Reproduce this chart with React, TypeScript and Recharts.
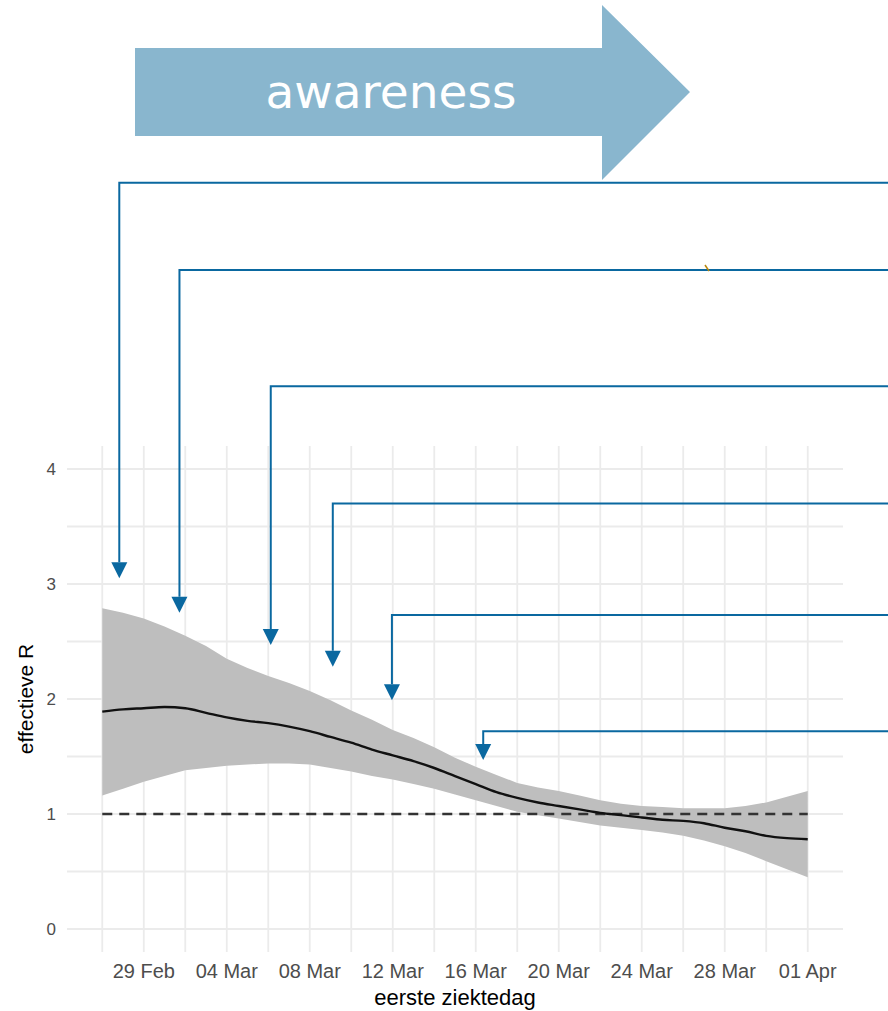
import {
  ComposedChart,
  Area,
  Line,
  XAxis,
  YAxis,
  CartesianGrid,
  ReferenceLine,
  Label,
} from "recharts";

const dates = [
  "27 Feb", "28 Feb", "29 Feb", "01 Mar", "02 Mar", "03 Mar", "04 Mar",
  "05 Mar", "06 Mar", "07 Mar", "08 Mar", "09 Mar", "10 Mar", "11 Mar",
  "12 Mar", "13 Mar", "14 Mar", "15 Mar", "16 Mar", "17 Mar", "18 Mar",
  "19 Mar", "20 Mar", "21 Mar", "22 Mar", "23 Mar", "24 Mar", "25 Mar",
  "26 Mar", "27 Mar", "28 Mar", "29 Mar", "30 Mar", "31 Mar", "01 Apr",
];

const meanR = [
  1.89, 1.91, 1.92, 1.93, 1.92, 1.88, 1.84, 1.81, 1.79, 1.76, 1.72, 1.67,
  1.62, 1.56, 1.51, 1.46, 1.4, 1.33, 1.26, 1.19, 1.14, 1.1, 1.07, 1.04,
  1.01, 0.99, 0.97, 0.95, 0.94, 0.92, 0.88, 0.85, 0.81, 0.79, 0.78,
];

const upperR = [
  2.79, 2.75, 2.7, 2.63, 2.55, 2.46, 2.35, 2.27, 2.2, 2.14, 2.07, 1.99,
  1.9, 1.82, 1.73, 1.66, 1.58, 1.49, 1.41, 1.34, 1.27, 1.23, 1.2, 1.16,
  1.12, 1.09, 1.07, 1.06, 1.05, 1.05, 1.05, 1.07, 1.1, 1.15, 1.2,
];

const lowerR = [
  1.16, 1.22, 1.28, 1.33, 1.38, 1.4, 1.42, 1.43, 1.44, 1.44, 1.43, 1.4,
  1.37, 1.33, 1.3, 1.26, 1.22, 1.17, 1.12, 1.07, 1.02, 0.99, 0.96, 0.93,
  0.9, 0.88, 0.86, 0.84, 0.81, 0.77, 0.72, 0.66, 0.59, 0.52, 0.45,
];

const tickLabels = [
  "29 Feb", "04 Mar", "08 Mar", "12 Mar", "16 Mar", "20 Mar", "24 Mar", "28 Mar", "01 Apr",
];
const yTicks = [0, 1, 2, 3, 4];
const yGrid = [0, 0.5, 1, 1.5, 2, 2.5, 3, 3.5, 4];
const THRESHOLD = 1;

// measure annotations: day offset from 27 Feb, bar height and arrow tip in R units
const arrowDays = [0.82, 3.72, 8.12, 11.11, 13.96, 18.36];
const arrowTop = [6.49, 5.73, 4.72, 3.7, 2.73, 1.72];
const arrowTip = [3.05, 2.75, 2.47, 2.28, 1.99, 1.47];

const CHART_W = 888;
const CHART_H = 1011;
const ARROW_COLOR = "#0A68A0";
const FONT = '"Liberation Sans", Arial, sans-serif';

const rows = dates.map((date, i) => ({
  day: i,
  date,
  mean: meanR[i],
  band: [lowerR[i], upperR[i]],
}));

const tickDays = tickLabels.map((l) => dates.indexOf(l));
const xGrid = dates.map((_, i) => i).filter((i) => i % 2 === 0);

function ElbowArrow(props: any) {
  const { x1, y1, x2, y2 } = props;
  const head = 16;
  return (
    <g>
      <path
        d={`M ${CHART_W} ${y1} H ${x1} V ${y2 - head}`}
        fill="none"
        stroke={ARROW_COLOR}
        strokeWidth={2}
      />
      <path
        d={`M ${x2 - 8} ${y2 - head} L ${x2 + 8} ${y2 - head} L ${x2} ${y2} Z`}
        fill={ARROW_COLOR}
      />
    </g>
  );
}

function YTitle(props: any) {
  const vb = props.viewBox;
  const cx = vb.x + 25;
  const cy = vb.y + vb.height / 2;
  return (
    <text
      x={cx}
      y={cy}
      transform={`rotate(-90, ${cx}, ${cy})`}
      textAnchor="middle"
      dominantBaseline="central"
      fontSize={21}
      fill="#000"
      fontFamily={FONT}
    >
      effectieve R
    </text>
  );
}

function XTitle(props: any) {
  const vb = props.viewBox;
  return (
    <text
      x={vb.x + vb.width / 2}
      y={1005}
      textAnchor="middle"
      fontSize={22}
      fill="#000"
      fontFamily={FONT}
    >
      eerste ziektedag
    </text>
  );
}

export default function App() {
  return (
    <div
      style={{
        position: "absolute",
        left: 0,
        top: 0,
        width: CHART_W,
        height: CHART_H,
        background: "#fff",
        fontFamily: FONT,
      }}
    >
      <ComposedChart
        width={CHART_W}
        height={CHART_H}
        data={rows}
        margin={{ top: 446, right: 45, bottom: 0, left: 0 }}
      >
        <CartesianGrid
          stroke="#EBEBEB"
          strokeWidth={1.8}
          horizontalValues={yGrid}
          verticalValues={xGrid}
        />
        <XAxis
          dataKey="day"
          type="number"
          domain={[-1.7, 35.7]}
          ticks={tickDays}
          interval={0}
          tickFormatter={(v: number) => dates[v]}
          axisLine={false}
          tickLine={false}
          tickMargin={6}
          height={59}
          tick={{ fill: "#4D4D4D", fontSize: 20, fontFamily: FONT }}
          allowDataOverflow
        >
          <Label content={<XTitle />} />
        </XAxis>
        <YAxis
          type="number"
          domain={[-0.2, 4.2]}
          ticks={yTicks}
          width={67}
          axisLine={false}
          tickLine={false}
          tickMargin={5}
          tick={{ fill: "#4D4D4D", fontSize: 17, fontFamily: FONT }}
          allowDataOverflow
        >
          <Label content={<YTitle />} />
        </YAxis>
        <Area
          dataKey="band"
          type="linear"
          fill="#BEBEBE"
          fillOpacity={1}
          stroke="none"
          activeDot={false}
          isAnimationActive={false}
        />
        <ReferenceLine
          segment={[
            { x: 0, y: THRESHOLD },
            { x: dates.length - 1, y: THRESHOLD },
          ]}
          stroke="#333333"
          strokeWidth={2.4}
          strokeDasharray="10 7"
        />
        <Line
          dataKey="mean"
          type="monotone"
          stroke="#111111"
          strokeWidth={2.4}
          dot={false}
          activeDot={false}
          isAnimationActive={false}
        />
        {arrowDays.map((d, i) => (
          <ReferenceLine
            key={`arrow-${i}`}
            segment={[
              { x: d, y: arrowTop[i] },
              { x: d, y: arrowTip[i] },
            ]}
            ifOverflow="visible"
            shape={<ElbowArrow />}
          />
        ))}
      </ComposedChart>
      <svg
        width={CHART_W}
        height={290}
        style={{ position: "absolute", left: 0, top: 0, pointerEvents: "none" }}
      >
        <polygon
          points="135,48 602,48 602,5 690,92 602,180 602,136 135,136"
          fill="#89B6CE"
        />
        <text
          x={391}
          y={108}
          textAnchor="middle"
          fontSize={47}
          fill="#fff"
          fontFamily='"DejaVu Sans", Verdana, sans-serif'
        >
          awareness
        </text>
        <line x1={705} y1={265} x2={709} y2={271} stroke="#B8860B" strokeWidth={1.5} />
      </svg>
    </div>
  );
}
